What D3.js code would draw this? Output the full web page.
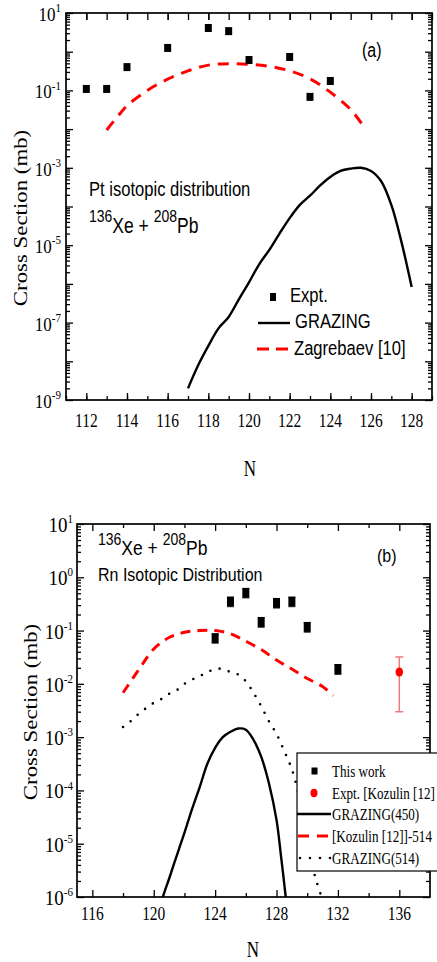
<!DOCTYPE html>
<html><head><meta charset="utf-8">
<script src="https://cdn.jsdelivr.net/npm/d3@7"></script>
<style>body{margin:0;background:#fff}svg{display:block}</style>
</head><body>
<svg id="c" width="437" height="962"></svg>
<script>
// ---------------- data: panel (a) Pt ----------------
const ptExptN = [112, 113, 114, 116, 118, 119, 120, 122, 123, 124];
const ptExptV = [0.109, 0.109, 0.40, 1.25, 4.1, 3.4, 0.61, 0.73, 0.068, 0.175];

const ptGrazN = [117, 117.5, 118, 118.5, 119, 119.5, 120, 120.5, 121, 121.5, 122, 122.5, 123, 123.5, 124, 124.5, 125, 125.5, 126, 126.5, 127, 127.5, 128];
const ptGrazV = [2.0e-9, 7.9e-9, 2.5e-8, 7.1e-8, 1.4e-7, 4.0e-7, 1.1e-6, 3.2e-6, 7.6e-6, 2.0e-5, 5.0e-5, 1.1e-4, 1.9e-4, 3.5e-4, 5.8e-4, 8.3e-4, 9.5e-4, 1.0e-3, 8.3e-4, 4.5e-4, 1.1e-4, 1.2e-5, 8.3e-7];

const ptZagN = [113, 113.5, 114, 115, 116, 117, 118, 119, 120, 121, 122, 123, 124, 125, 125.6];
const ptZagV = [0.0095, 0.02, 0.04, 0.1, 0.195, 0.32, 0.45, 0.49, 0.47, 0.42, 0.32, 0.2, 0.09, 0.032, 0.0125];

const ptXTicks = [112, 114, 116, 118, 120, 122, 124, 126, 128];
const ptYExps = [1, -1, -3, -5, -7, -9];

// ---------------- data: panel (b) Rn ----------------
const rnWorkN = [124, 125, 126, 127, 128, 129, 130, 132];
const rnWorkV = [0.072, 0.35, 0.51, 0.145, 0.33, 0.35, 0.117, 0.019];
const rnWorkErr = [0.014, 0.07, 0.1, 0.03, 0.066, 0.07, 0.024, 0.004];

const kozN = [136];
const kozV = [0.0167];
const kozLo = [0.003];
const kozHi = [0.032];

const koz514N = [118, 119, 120, 121, 122, 123, 124, 125, 126, 127, 128, 129, 130, 131, 131.7];
const koz514V = [0.0068, 0.018, 0.045, 0.074, 0.093, 0.1, 0.1, 0.087, 0.063, 0.044, 0.028, 0.019, 0.0126, 0.0089, 0.006];

const graz450N = [120.4, 120.6, 121, 121.5, 122, 122.5, 123, 123.5, 124, 124.5, 125, 125.5, 126, 126.5, 127, 127.5, 128, 128.3, 128.6, 128.7];
const graz450V = [5e-7, 1.0e-6, 2.2e-6, 6.0e-6, 1.6e-5, 4.5e-5, 1.17e-4, 3.2e-4, 6.3e-4, 1.0e-3, 1.26e-3, 1.45e-3, 1.38e-3, 8.9e-4, 4.3e-4, 1.38e-4, 2.8e-5, 5.6e-6, 1.0e-6, 5e-7];

const graz514N = [118, 118.5, 119, 119.5, 120, 120.5, 121, 121.5, 122, 122.5, 123, 123.5, 124, 124.5, 125, 125.5, 126, 126.5, 127, 127.5, 128, 128.5, 129, 129.5, 130, 130.5, 131];
const graz514V = [1.55e-3, 2.0e-3, 2.7e-3, 3.5e-3, 4.4e-3, 5.2e-3, 6.5e-3, 7.6e-3, 1.0e-2, 1.2e-2, 1.4e-2, 1.66e-2, 1.9e-2, 1.9e-2, 1.66e-2, 1.5e-2, 1.12e-2, 6.8e-3, 3.8e-3, 2.0e-3, 1.15e-3, 5.5e-4, 2.5e-4, 7.1e-5, 1.35e-5, 2.5e-6, 8.9e-7];

const rnXTicks = [116, 120, 124, 128, 132, 136];
const rnYExps = [1, 0, -1, -2, -3, -4, -5, -6];

// ---------------- helpers ----------------
const SERIF = "'Liberation Serif','Times New Roman',serif";
const SANS = "'Liberation Sans',Arial,sans-serif";
const svg = d3.select('#c');

function stext(g, x, y, parts, o) {
  o = o || {};
  const sy = o.sy || 1, sx = o.sx || 1;
  let tr = `translate(${x},${y})`;
  if (o.rot) tr += ` rotate(${o.rot})`;
  tr += ` scale(${sx},${sy})`;
  const t = g.append('text').attr('transform', tr)
    .attr('font-family', o.font || SANS).attr('font-size', o.size || 16)
    .attr('text-anchor', o.anchor || 'start').attr('fill', '#000');
  let shift = 0;
  parts.forEach(p => {
    if (typeof p === 'string') p = { t: p };
    const ts = t.append('tspan').text(p.t);
    const want = p.raise || 0;
    const dy = -(want - shift);
    if (dy !== 0) ts.attr('dy', dy);
    shift = want;
    if (p.size) ts.attr('font-size', p.size);
  });
  return t;
}

function logTicks(lo, hi) {
  const major = [], minor = [];
  for (let e = lo; e <= hi; e++) {
    major.push(Math.pow(10, e));
    if (e < hi) for (let k = 2; k <= 9; k++) minor.push(k * Math.pow(10, e));
  }
  return { major, minor };
}

function frame(g, x, y, xMajor, xMinor, yLo, yHi, lens) {
  const [x0, x1] = x.range();
  const [y0, y1] = y.range();
  const lt = logTicks(yLo, yHi);
  const ax = (gen, tr) => {
    const a = g.append('g').attr('transform', tr).call(gen);
    a.select('.domain').remove();
    a.selectAll('line').attr('stroke', '#000').attr('stroke-width', 1.3);
    a.selectAll('text').remove();
  };
  ax(d3.axisBottom(x).tickValues(xMajor).tickSize(-lens.xMaj).tickSizeOuter(0), `translate(0,${y0})`);
  ax(d3.axisBottom(x).tickValues(xMinor).tickSize(-lens.xMin).tickSizeOuter(0), `translate(0,${y0})`);
  ax(d3.axisTop(x).tickValues(xMajor).tickSize(-lens.xMajT).tickSizeOuter(0), `translate(0,${y1})`);
  ax(d3.axisTop(x).tickValues(xMinor).tickSize(-lens.xMinT).tickSizeOuter(0), `translate(0,${y1})`);
  ax(d3.axisLeft(y).tickValues(lt.major).tickSize(-7).tickSizeOuter(0), `translate(${x0},0)`);
  ax(d3.axisLeft(y).tickValues(lt.minor).tickSize(-4).tickSizeOuter(0), `translate(${x0},0)`);
  ax(d3.axisRight(y).tickValues(lt.major).tickSize(-7).tickSizeOuter(0), `translate(${x1},0)`);
  ax(d3.axisRight(y).tickValues(lt.minor).tickSize(-4).tickSizeOuter(0), `translate(${x1},0)`);
  g.append('rect').attr('x', x0).attr('y', y1).attr('width', x1 - x0).attr('height', y0 - y1)
    .attr('fill', 'none').attr('stroke', '#000').attr('stroke-width', 1.7);
}

function clip(id, x, y) {
  const [x0, x1] = x.range(); const [y0, y1] = y.range();
  svg.append('defs').append('clipPath').attr('id', id).append('rect')
    .attr('x', x0).attr('y', y1).attr('width', x1 - x0).attr('height', y0 - y1);
}

function curve(g, x, y, N, V, style) {
  const line = d3.line().x((d, i) => x(N[i])).y(d => y(d)).curve(d3.curveCatmullRom.alpha(0.5));
  const p = g.append('path').attr('d', line(V)).attr('fill', 'none')
    .attr('stroke', style.color).attr('stroke-width', style.width);
  if (style.dash) p.attr('stroke-dasharray', style.dash);
  if (style.cap) p.attr('stroke-linecap', style.cap);
  return p;
}

// ---------------- panel (a) ----------------
const xT = d3.scaleLinear().domain([111, 129]).range([66, 432]);
const yT = d3.scaleLog().domain([1e-9, 10]).range([400, 13]);
clip('clipA', xT, yT);
const gA = svg.append('g');
const cA = gA.append('g').attr('clip-path', 'url(#clipA)');
curve(cA, xT, yT, ptZagN, ptZagV, { color: '#ff0000', width: 3, dash: '11,8' });
curve(cA, xT, yT, ptGrazN, ptGrazV, { color: '#000', width: 2.4 });
cA.selectAll('rect.e').data(ptExptV).enter().append('rect')
  .attr('x', (d, i) => xT(ptExptN[i]) - 3.5).attr('y', d => yT(d) - 4)
  .attr('width', 7).attr('height', 8).attr('fill', '#000');

frame(gA, xT, yT, ptXTicks, d3.range(111, 130), -9, 1, { xMaj: 7, xMin: 4, xMajT: 7, xMinT: 7 });

ptXTicks.forEach(v => stext(gA, xT(v), 427, [String(v)], { font: SERIF, size: 15.5, anchor: 'middle', sy: 1.25 }));
ptYExps.forEach(e => stext(gA, 61, yT(Math.pow(10, e)) + 8,
  ['10', { t: String(e), size: 11, raise: 8 }], { font: SERIF, size: 17, anchor: 'end', sy: 1.1 }));

stext(gA, 27, 218, ['Cross Section (mb)'], { font: SERIF, size: 18, anchor: 'middle', rot: -90, sx: 1.27 });
stext(gA, 250, 476, ['N'], { font: SERIF, size: 17, anchor: 'middle', sy: 1.3 });

stext(gA, 89, 196, ['Pt isotopic distribution'], { size: 16.6, sy: 1.22 });
stext(gA, 89, 233, [{ t: '136', size: 14, raise: 9 }, 'Xe + ', { t: '208', size: 14, raise: 9 }, 'Pb'], { size: 17.5, sy: 1.22 });
stext(gA, 362, 57, ['(a)'], { size: 16, sy: 1.22 });

// legend (a)
gA.append('rect').attr('x', 270).attr('y', 293).attr('width', 6).attr('height', 8).attr('fill', '#000');
stext(gA, 290, 302, ['Expt.'], { size: 16.6, sy: 1.22 });
gA.append('line').attr('x1', 258).attr('x2', 290).attr('y1', 323).attr('y2', 323).attr('stroke', '#000').attr('stroke-width', 2.4);
stext(gA, 295, 328, ['GRAZING'], { size: 16.6, sy: 1.22 });
gA.append('line').attr('x1', 257).attr('x2', 288).attr('y1', 349).attr('y2', 349).attr('stroke', '#ff0000').attr('stroke-width', 3).attr('stroke-dasharray', '12,7');
stext(gA, 294, 355, ['Zagrebaev [10]'], { size: 16.6, sy: 1.22 });

// ---------------- panel (b) ----------------
const xB = d3.scaleLinear().domain([115, 138]).range([77, 430]);
const yB = d3.scaleLog().domain([1e-6, 10]).range([897, 524]);
clip('clipB', xB, yB);
const gB = svg.append('g');
const cB = gB.append('g').attr('clip-path', 'url(#clipB)');
curve(cB, xB, yB, koz514N, koz514V, { color: '#ff0000', width: 3, dash: '10,7' });
curve(cB, xB, yB, graz514N, graz514V, { color: '#000', width: 2.6, dash: '0,9.5', cap: 'round' });
curve(cB, xB, yB, graz450N, graz450V, { color: '#000', width: 2.4 });

rnWorkV.forEach((v, i) => {
  const cx = xB(rnWorkN[i]);
  const hi = yB(v + rnWorkErr[i]), lo = yB(v - rnWorkErr[i]);
  cB.append('line').attr('x1', cx).attr('x2', cx).attr('y1', hi).attr('y2', lo).attr('stroke', '#000').attr('stroke-width', 1);
  [hi, lo].forEach(yy => cB.append('line').attr('x1', cx - 3.5).attr('x2', cx + 3.5).attr('y1', yy).attr('y2', yy).attr('stroke', '#333').attr('stroke-width', 1));
  cB.append('rect').attr('x', cx - 3.5).attr('y', yB(v) - 5).attr('width', 7).attr('height', 10).attr('fill', '#000');
});
kozV.forEach((v, i) => {
  const cx = xB(kozN[i]);
  cB.append('line').attr('x1', cx).attr('x2', cx).attr('y1', yB(kozHi[i])).attr('y2', yB(kozLo[i])).attr('stroke', '#f07a7a').attr('stroke-width', 1.5);
  [kozHi[i], kozLo[i]].forEach(w => cB.append('line').attr('x1', cx - 4).attr('x2', cx + 4).attr('y1', yB(w)).attr('y2', yB(w)).attr('stroke', '#f07a7a').attr('stroke-width', 1.5));
  cB.append('ellipse').attr('cx', cx).attr('cy', yB(v)).attr('rx', 3.8).attr('ry', 4.5).attr('fill', '#ff0000');
});

frame(gB, xB, yB, rnXTicks, [118, 122, 126, 130, 134], -6, 1, { xMaj: 7, xMin: 4, xMajT: 7, xMinT: 4 });

rnXTicks.forEach(v => stext(gB, xB(v), 920, [String(v)], { font: SERIF, size: 15.5, anchor: 'middle', sy: 1.25 }));
rnYExps.forEach(e => stext(gB, 73, yB(Math.pow(10, e)) + 8,
  ['10', { t: String(e), size: 11, raise: 8 }], { font: SERIF, size: 19, anchor: 'end', sy: 1.1 }));

stext(gB, 37, 712, ['Cross Section (mb)'], { font: SERIF, size: 18, anchor: 'middle', rot: -90, sx: 1.27 });
stext(gB, 253, 957, ['N'], { font: SERIF, size: 17, anchor: 'middle', sy: 1.3 });

stext(gB, 98, 555, [{ t: '136', size: 14, raise: 9 }, 'Xe + ', { t: '208', size: 14, raise: 9 }, 'Pb'], { size: 17.5, sy: 1.15 });
stext(gB, 98, 581, ['Rn Isotopic Distribution'], { size: 16, sy: 1.15 });
stext(gB, 377, 562, ['(b)'], { size: 16, sy: 1.15 });

// legend (b)
const lg = gB.append('g');
lg.append('rect').attr('x', 297).attr('y', 753).attr('width', 200).attr('height', 118)
  .attr('fill', '#fff').attr('stroke', '#000').attr('stroke-width', 1.2);
const lx = 332, rows = [771, 793, 814, 836, 858];
lg.append('rect').attr('x', 311.5).attr('y', rows[0] - 3.5).attr('width', 6).attr('height', 7).attr('fill', '#000');
lg.append('ellipse').attr('cx', 314).attr('cy', rows[1]).attr('rx', 3.5).attr('ry', 4.2).attr('fill', '#ff0000');
lg.append('line').attr('x1', 297).attr('x2', 331).attr('y1', rows[2]).attr('y2', rows[2]).attr('stroke', '#000').attr('stroke-width', 2.4);
lg.append('line').attr('x1', 298).attr('x2', 330).attr('y1', rows[3]).attr('y2', rows[3]).attr('stroke', '#ff0000').attr('stroke-width', 3).attr('stroke-dasharray', '11,8');
lg.append('line').attr('x1', 300).attr('x2', 332).attr('y1', rows[4]).attr('y2', rows[4]).attr('stroke', '#000').attr('stroke-width', 2.6).attr('stroke-dasharray', '0,10').attr('stroke-linecap', 'round');
const legTexts = ['This work', 'Expt. [Kozulin [12]', 'GRAZING(450)', '[Kozulin [12]]-514', 'GRAZING(514)'];
legTexts.forEach((s, i) => stext(lg, lx, rows[i] + 6, [s], { font: SERIF, size: 13.1, sy: 1.35 }));
</script>
</body></html>
